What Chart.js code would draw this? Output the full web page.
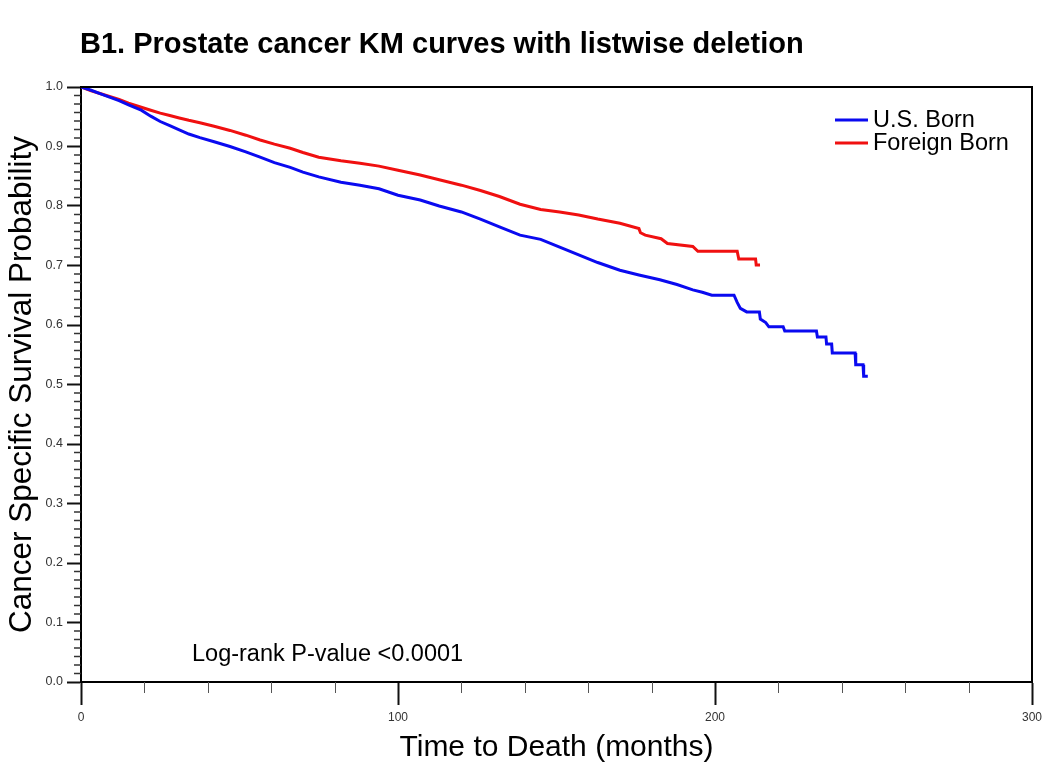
<!DOCTYPE html>
<html>
<head>
<meta charset="utf-8">
<script src="https://cdn.jsdelivr.net/npm/chart.js@4/dist/chart.umd.min.js"></script>
<style>
  body { margin: 0; background: #fff; }
  #wrap { width: 1050px; height: 771px; }
</style>
</head>
<body>
<div id="wrap"><canvas id="kmChart" width="1050" height="771"></canvas></div>
<script>
// Curvas KM (meses, probabilidad de supervivencia)
const usTimes = [0, 3, 6, 9, 12, 15, 19, 22, 25, 28, 31, 34, 37.5, 42, 47, 52, 56.5, 61, 66, 70, 75, 82, 88, 94, 100, 107, 113, 120, 126, 132, 138.5, 145, 151, 157, 163, 170, 176, 182.6, 188, 193, 196, 199, 206, 207, 208, 210, 214, 214.3, 216, 217, 221.5, 222, 232, 232.3, 235, 235.2, 236.8, 237, 244.2, 244.4, 246.7, 246.9, 248.2];
const usSurv = [1.0, 0.995, 0.989, 0.983, 0.977, 0.970, 0.961, 0.951, 0.942, 0.935, 0.928, 0.921, 0.915, 0.908, 0.900, 0.891, 0.882, 0.873, 0.865, 0.857, 0.849, 0.840, 0.835, 0.829, 0.818, 0.810, 0.800, 0.790, 0.778, 0.765, 0.751, 0.744, 0.731, 0.718, 0.705, 0.692, 0.684, 0.676, 0.668, 0.659, 0.655, 0.650, 0.650, 0.638, 0.628, 0.622, 0.622, 0.610, 0.604, 0.597, 0.597, 0.590, 0.590, 0.580, 0.580, 0.568, 0.568, 0.553, 0.553, 0.533, 0.533, 0.514, 0.514];

const fbTimes = [0, 3, 6, 9, 12, 15, 19, 22, 25, 28, 31, 34, 37.5, 42, 47, 52, 56.5, 61, 66, 70, 75, 82, 88, 94, 100, 107, 113, 120, 126, 132, 138.5, 145, 151, 157, 163, 170, 176, 176.5, 178, 183, 185, 193, 194.6, 207, 207.5, 212.8, 213, 214.2];
const fbSurv = [1.0, 0.994, 0.989, 0.984, 0.979, 0.973, 0.966, 0.961, 0.956, 0.952, 0.948, 0.944, 0.940, 0.934, 0.927, 0.919, 0.911, 0.904, 0.897, 0.890, 0.882, 0.876, 0.872, 0.867, 0.860, 0.852, 0.844, 0.835, 0.826, 0.816, 0.803, 0.794, 0.790, 0.785, 0.778, 0.771, 0.762, 0.755, 0.751, 0.745, 0.737, 0.732, 0.724, 0.724, 0.711, 0.711, 0.701, 0.701];

const xMajorTicks = [0, 100, 200, 300];
const xMinorTicks = [20, 40, 60, 80, 120, 140, 160, 180, 220, 240, 260, 280];
const yMajorTicks = [0.0, 0.1, 0.2, 0.3, 0.4, 0.5, 0.6, 0.7, 0.8, 0.9, 1.0];

const FONT = "Arial, 'Liberation Sans', sans-serif";

function toPoints(times, surv) {
    return times.map((t, i) => ({ x: t, y: surv[i] }));
}

// Plugin: título, marco, marcas menores, leyenda y texto del log-rank
const decoraciones = {
    id: 'decoraciones',
    afterDraw(chart) {
        const ctx = chart.ctx;
        const area = chart.chartArea;
        const xs = chart.scales.x;
        const ys = chart.scales.y;
        ctx.save();

        // marco superior y derecho
        ctx.strokeStyle = '#000';
        ctx.lineWidth = 2;
        ctx.beginPath();
        ctx.moveTo(area.left, area.top);
        ctx.lineTo(area.right, area.top);
        ctx.lineTo(area.right, area.bottom);
        ctx.stroke();

        // marcas menores
        ctx.lineWidth = 1;
        ctx.strokeStyle = '#555';
        xMinorTicks.forEach(v => {
            const px = Math.round(xs.getPixelForValue(v)) + 0.5;
            ctx.beginPath();
            ctx.moveTo(px, area.bottom);
            ctx.lineTo(px, area.bottom + 11);
            ctx.stroke();
        });
        ctx.strokeStyle = '#333';
        ctx.lineWidth = 1.5;
        for (let i = 0; i < yMajorTicks.length - 1; i++) {
            for (let k = 1; k < 7; k++) {
                const v = yMajorTicks[i] + k * 0.1 / 7;
                const py = ys.getPixelForValue(v);
                ctx.beginPath();
                ctx.moveTo(area.left, py);
                ctx.lineTo(area.left - 7, py);
                ctx.stroke();
            }
        }

        // título
        ctx.fillStyle = '#000';
        ctx.font = 'bold 29px ' + FONT;
        ctx.textBaseline = 'middle';
        ctx.textAlign = 'left';
        ctx.fillText('B1. Prostate cancer KM curves with listwise deletion', 80, 45);

        // leyenda
        ctx.font = '23.5px ' + FONT;
        chart.data.datasets.forEach((ds, i) => {
            const y = 120 + i * 23;
            ctx.strokeStyle = ds.borderColor;
            ctx.lineWidth = 3;
            ctx.beginPath();
            ctx.moveTo(835, y);
            ctx.lineTo(868, y);
            ctx.stroke();
            ctx.fillStyle = '#000';
            ctx.fillText(ds.label, 873, y + 1);
        });

        // texto log-rank
        ctx.font = '23.5px ' + FONT;
        ctx.fillText('Log-rank P-value <0.0001', 192, 655);

        ctx.restore();
    }
};

function crearGraficoKM() {
    const ctx = document.getElementById('kmChart').getContext('2d');
    new Chart(ctx, {
        type: 'line',
        data: {
            datasets: [{
                label: 'U.S. Born',
                data: toPoints(usTimes, usSurv),
                borderColor: '#0a0af0',
                borderWidth: 3,
                pointRadius: 0,
                tension: 0
            }, {
                label: 'Foreign Born',
                data: toPoints(fbTimes, fbSurv),
                borderColor: '#f01010',
                borderWidth: 3,
                pointRadius: 0,
                tension: 0
            }]
        },
        options: {
            responsive: false,
            devicePixelRatio: 1,
            animation: false,
            layout: { padding: { top: 87, right: 18, left: 0, bottom: 0 } },
            plugins: {
                legend: { display: false },
                tooltip: { enabled: false }
            },
            scales: {
                x: {
                    type: 'linear',
                    min: 0,
                    max: 300,
                    afterFit: s => { s.height = 89; },
                    afterBuildTicks: s => { s.ticks = xMajorTicks.map(v => ({ value: v })); },
                    grid: {
                        drawOnChartArea: false,
                        tickLength: 23,
                        tickWidth: 2,
                        tickColor: '#111'
                    },
                    border: { display: true, color: '#000', width: 2 },
                    ticks: {
                        color: '#333',
                        padding: 5,
                        maxRotation: 0,
                        font: { family: FONT, size: 12 }
                    },
                    title: {
                        display: true,
                        text: 'Time to Death (months)',
                        color: '#000',
                        font: { family: FONT, size: 30 },
                        padding: { top: 0, bottom: 5 }
                    }
                },
                y: {
                    min: 0,
                    max: 1,
                    afterFit: s => { s.width = 81; },
                    afterBuildTicks: s => { s.ticks = yMajorTicks.map(v => ({ value: v })); },
                    grid: {
                        drawOnChartArea: false,
                        tickLength: 14,
                        tickWidth: 2,
                        tickColor: '#111'
                    },
                    border: { display: true, color: '#000', width: 2 },
                    ticks: {
                        color: '#333',
                        padding: 4,
                        font: { family: FONT, size: 12.5 },
                        callback: v => v.toFixed(1)
                    },
                    title: {
                        display: true,
                        text: 'Cancer Specific Survival Probability',
                        color: '#000',
                        font: { family: FONT, size: 31.5 },
                        padding: { top: 3, bottom: 0 }
                    }
                }
            }
        },
        plugins: [decoraciones]
    });
}

window.onload = crearGraficoKM;
</script>
</body>
</html>
